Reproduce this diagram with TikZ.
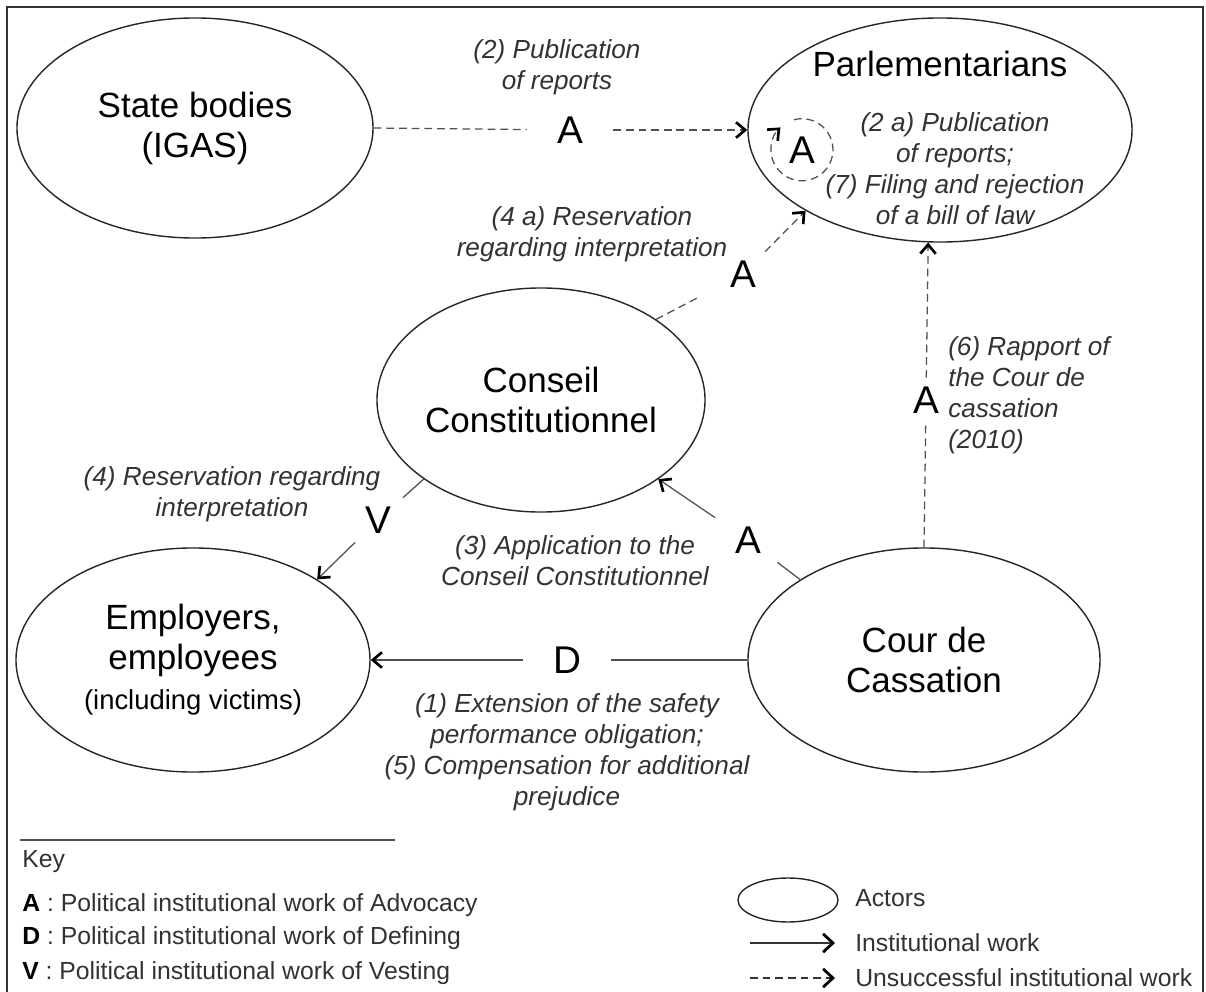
\documentclass[tikz,border=0pt]{standalone}
\usepackage{fontspec}
\setmainfont{Liberation Sans}
\usetikzlibrary{shapes.geometric,arrows.meta}
\definecolor{inkgray}{RGB}{50,50,50}
\definecolor{linegray}{RGB}{80,80,80}
\newcommand\actorfont{\fontsize{24.9}{28.5}\selectfont}
\newcommand\smallactorfont{\fontsize{19.5}{26}\selectfont}
\newcommand\labelfont{\fontsize{18.6}{22}\selectfont\itshape}
\newcommand\letterfont{\fontsize{27.5}{30}\selectfont}
\newcommand\keyfont{\fontsize{17.6}{24}\selectfont}
\tikzset{
  actor/.style={ellipse, draw=black!85, line width=1pt, inner sep=0pt, align=center, font=\actorfont, minimum height=5.6cm},
  letter/.style={font=\letterfont, inner xsep=0.75cm, inner ysep=0.22cm},
  worklabel/.style={font=\labelfont, text=inkgray, align=center, inner sep=0pt},
  keytext/.style={font=\keyfont, text=inkgray, anchor=west, inner sep=0pt},
  worked/.style={draw=linegray, line width=0.9pt},
  failed/.style={draw=linegray, line width=0.9pt, dash pattern=on 5.5pt off 3.5pt},
}
\begin{document}
\begin{tikzpicture}[x=0.025cm,y=-0.025cm,>={Straight Barb[length=6.5pt,width=11pt,line width=1.9pt,color=black]}]
\useasboundingbox (0,0) rectangle (1206,992);
\draw[line width=1.1pt, black!80] (7,992) -- (7,7) -- (1203,7) -- (1203,992);

\node[actor, minimum width=8.9cm, minimum height=5.5cm] (state) at (195,128) {State bodies\\(IGAS)};
\node[actor, minimum width=9.6cm] (parl) at (940,130) {};
\node[font=\actorfont] (parltitle) at (940,64) {Parlementarians};
\node[actor, minimum width=8.2cm] (conseil) at (541,400) {Conseil\\Constitutionnel};
\node[actor, minimum width=8.85cm] (employers) at (193,660) {Employers,\\employees\\{\smallactorfont(including victims)}};
\node[actor, minimum width=8.8cm] (cour) at (924,660) {Cour de\\Cassation};

\node[letter] (aState) at (570,130) {A};
\node[letter] (aConseil) at (743,274) {A};
\node[letter] (aCour) at (926,400) {A};
\node[letter] (aAppl) at (748,540) {A};
\node[letter] (vRes) at (378,520) {V};
\node[letter] (dExt) at (567,660) {D};
\node[font=\letterfont, circle, inner sep=0pt, minimum size=1.55cm] (loopA) at (802,150) {A};

\draw[failed] (state.east) -- (aState);
\draw[failed,->] (aState) -- (parl.west);
\draw[failed] (conseil.35) -- (aConseil);
\draw[failed,->] (aConseil) -- (parl.211);
\draw[failed] (cour.north) -- (aCour);
\draw[failed,->] (aCour) -- (parl.264);
\draw[worked] (cour.147) -- (aAppl);
\draw[worked,->] (aAppl) -- (conseil.-34);
\draw[worked] (conseil.214) -- (vRes);
\draw[worked,->] (vRes) -- (employers.33);
\draw[worked] (cour.west) -- (dExt);
\draw[worked,->] (dExt) -- (employers.east);
\draw[failed,->] (loopA.105) arc[start angle=105, end angle=-226, radius=0.775cm];

\node[worklabel] (l2) at (557,67) {(2) Publication\\of reports};
\node[worklabel] (l2a) at (955,169) {(2 a) Publication\\of reports;\\(7) Filing and rejection\\of a bill of law};
\node[worklabel] (l4a) at (592,234) {(4 a) Reservation\\regarding interpretation};
\node[worklabel, align=left, anchor=west] (l6) at (948,395) {(6) Rapport of\\the Cour de\\cassation\\(2010)};
\node[worklabel] (l4) at (232,494) {(4) Reservation regarding\\interpretation};
\node[worklabel] (l3) at (575,561) {(3) Application to the\\Conseil Constitutionnel};
\node[worklabel] (l1) at (567,752) {(1) Extension of the safety\\performance obligation;\\(5) Compensation for additional\\prejudice};

\draw[linegray, line width=0.8pt] (20,840) -- (395,840);
\node[keytext] (keytitle) at (22,862) {Key};
\node[keytext] (keyA) at (22,905) {{\color{black}\bfseries A} : Political institutional work of Advocacy};
\node[keytext] (keyD) at (22,938) {{\color{black}\bfseries D} : Political institutional work of Defining};
\node[keytext] (keyV) at (22,973) {{\color{black}\bfseries V} : Political institutional work of Vesting};

\node[actor, minimum width=2.5cm, minimum height=1.1cm] (keyactor) at (788,900) {};
\node[keytext] (keyactors) at (855,898) {Actors};
\coordinate (ks1) at (750,943);
\coordinate (ke1) at (835,943);
\draw[worked, draw=black!80, ->, >={Straight Barb[length=7pt,width=13pt,line width=2pt,color=black]}] (ks1) -- (ke1);
\node[keytext] (keywork) at (855,943) {Institutional work};
\coordinate (ks2) at (750,978);
\coordinate (ke2) at (835,978);
\draw[failed, draw=black!80, ->, >={Straight Barb[length=7pt,width=13pt,line width=2pt,color=black]}] (ks2) -- (ke2);
\node[keytext] (keyfail) at (855,978) {Unsuccessful institutional work};
\end{tikzpicture}
\end{document}
